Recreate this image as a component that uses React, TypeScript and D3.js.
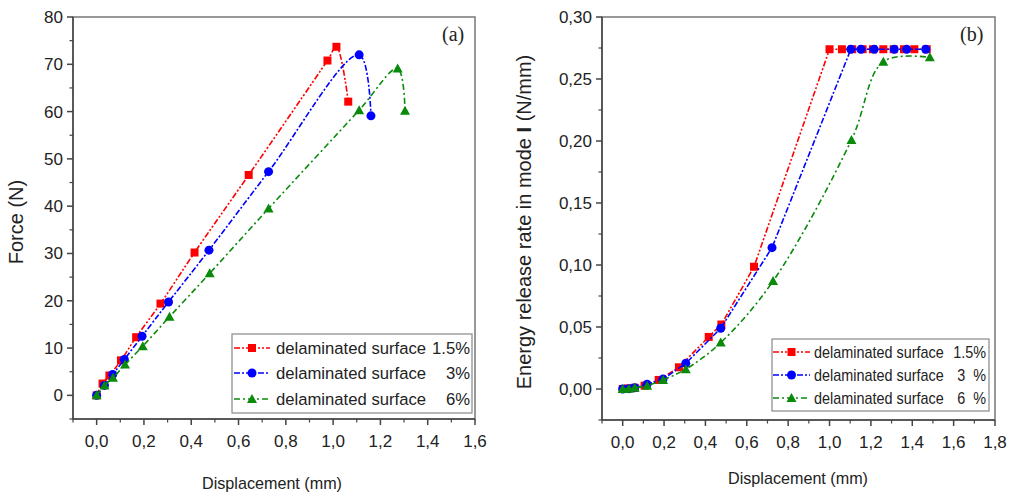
import React from "react";
import * as d3 from "d3";

// ---------- Panel (a): Force vs Displacement ----------
const a15X = [0, 0.025, 0.054, 0.103, 0.167, 0.27, 0.414, 0.643, 0.976, 1.014, 1.064];
const a15Y = [0, 2.5, 4.2, 7.4, 12.3, 19.4, 30.2, 46.6, 70.8, 73.7, 62.1];
const a3X = [0, 0.033, 0.068, 0.117, 0.192, 0.304, 0.475, 0.727, 1.11, 1.16];
const a3Y = [0, 2.1, 4.4, 7.6, 12.5, 19.75, 30.7, 47.3, 72.0, 59.1];
const a6X = [0, 0.033, 0.069, 0.12, 0.195, 0.308, 0.478, 0.727, 1.11, 1.273, 1.304];
const a6Y = [0, 2.1, 3.7, 6.5, 10.4, 16.6, 25.8, 39.5, 60.3, 69.1, 60.2];

// ---------- Panel (b): Energy release rate vs Displacement ----------
const b15X = [0, 0.026, 0.058, 0.106, 0.174, 0.272, 0.416, 0.477, 0.635, 1.0, 1.06, 1.11, 1.16, 1.21, 1.26, 1.31, 1.36, 1.41, 1.47];
const b15Y = [0, 0.0005, 0.001, 0.0027, 0.0073, 0.0175, 0.042, 0.052, 0.0986, 0.274, 0.274, 0.274, 0.274, 0.274, 0.274, 0.274, 0.274, 0.274, 0.274];
const b3X = [0, 0.03, 0.058, 0.118, 0.195, 0.305, 0.474, 0.722, 1.103, 1.152, 1.216, 1.313, 1.373, 1.465];
const b3Y = [0, 0.0003, 0.001, 0.0038, 0.008, 0.0207, 0.049, 0.114, 0.274, 0.274, 0.274, 0.274, 0.274, 0.274];
const b6X = [0, 0.03, 0.058, 0.118, 0.195, 0.305, 0.474, 0.727, 1.106, 1.26, 1.485];
const b6Y = [0, 0.0003, 0.001, 0.0027, 0.0073, 0.016, 0.0374, 0.087, 0.2008, 0.264, 0.2675];

const legendNames = ["delaminated surface", "delaminated surface", "delaminated surface"];
const legendPctA = ["1.5%", "3%", "6%"];
const legendPctB = ["1.5%", "3  %", "6  %"];

const xTicksA = [0, 0.2, 0.4, 0.6, 0.8, 1.0, 1.2, 1.4, 1.6];
const yTicksA = [0, 10, 20, 30, 40, 50, 60, 70, 80];
const xTicksB = [0, 0.2, 0.4, 0.6, 0.8, 1.0, 1.2, 1.4, 1.6, 1.8];
const yTicksB = [0, 0.05, 0.1, 0.15, 0.2, 0.25, 0.3];

const RED = "#ff0000";
const BLUE = "#0000ff";
const GREEN = "#0a8a0a";
const FONT = "'Liberation Sans', Arial, sans-serif";

type Series = { xs: number[]; ys: number[]; color: string; marker: string; dash: string; smooth: boolean };

function Marker({ type, x, y, color }: { type: string; x: number; y: number; color: string }) {
  if (type === "square") return <rect x={x - 4} y={y - 4} width={8} height={8} fill={color} />;
  if (type === "circle") return <circle cx={x} cy={y} r={4.5} fill={color} />;
  const s = 5;
  return <path d={`M${x},${y - s} L${x + s},${y + s * 0.8} L${x - s},${y + s * 0.8} Z`} fill={color} />;
}

function Panel(props: {
  x0: number; x1: number; y0: number; y1: number;
  xDom: [number, number]; yDom: [number, number];
  xTicks: number[]; yTicks: number[]; xMinor: number; yMinor: number;
  xFmt: (v: number) => string; yFmt: (v: number) => string;
  series: Series[]; tag: string; tagX: number;
}) {
  const { x0, x1, y0, y1, xDom, yDom, xTicks, yTicks, xMinor, yMinor, xFmt, yFmt, series, tag, tagX } = props;
  const xs = d3.scaleLinear().domain(xDom).range([x0, x1]);
  const ys = d3.scaleLinear().domain(yDom).range([y1, y0]);
  const smoothLine = d3.line<[number, number]>()
    .x((d) => xs(d[0]))
    .y((d) => ys(d[1]))
    .curve(d3.curveCatmullRom.alpha(0.5));
  const straightLine = d3.line<[number, number]>()
    .x((d) => xs(d[0]))
    .y((d) => ys(d[1]));
  const xMinorTicks = xTicks.map((t) => t - xMinor).filter((t) => t >= xDom[0] - 1e-9);
  const yMinorTicks = yTicks.map((t) => t - yMinor).filter((t) => t >= yDom[0] - 1e-9);
  return (
    <g>
      <rect x={x0} y={y0} width={x1 - x0} height={y1 - y0} fill="none" stroke="#777" strokeWidth={1.5} />
      <line x1={x0} x2={x0} y1={y0} y2={y1} stroke="#444" strokeWidth={1.5} />
      <line x1={x0} x2={x1} y1={y1} y2={y1} stroke="#444" strokeWidth={1.5} />
      {xTicks.map((t) => (
        <g key={"xt" + t}>
          <line x1={xs(t)} x2={xs(t)} y1={y1} y2={y1 + 6} stroke="#444" strokeWidth={1.5} />
          <text x={xs(t)} y={y1 + 28} textAnchor="middle" fontFamily={FONT} fontSize={17} fill="#222">{xFmt(t)}</text>
        </g>
      ))}
      {xMinorTicks.map((t) => (
        <line key={"xm" + t} x1={xs(t)} x2={xs(t)} y1={y1} y2={y1 + 3.5} stroke="#444" strokeWidth={1.2} />
      ))}
      {yTicks.map((t) => (
        <g key={"yt" + t}>
          <line x1={x0 - 6} x2={x0} y1={ys(t)} y2={ys(t)} stroke="#444" strokeWidth={1.5} />
          <text x={x0 - 10} y={ys(t) + 6} textAnchor="end" fontFamily={FONT} fontSize={17} fill="#222">{yFmt(t)}</text>
        </g>
      ))}
      {yMinorTicks.map((t) => (
        <line key={"ym" + t} x1={x0 - 3.5} x2={x0} y1={ys(t)} y2={ys(t)} stroke="#444" strokeWidth={1.2} />
      ))}
      {series.map((s, i) => {
        const pts = s.xs.map((x, j) => [x, s.ys[j]] as [number, number]);
        const gen = s.smooth ? smoothLine : straightLine;
        return (
          <g key={"s" + i}>
            <path d={gen(pts) || ""} fill="none" stroke={s.color} strokeWidth={1.6} strokeDasharray={s.dash} />
            {pts.map((p, j) => (
              <Marker key={j} type={s.marker} x={xs(p[0])} y={ys(p[1])} color={s.color} />
            ))}
          </g>
        );
      })}
      <text x={tagX} y={y0 + 24} fontFamily="'Liberation Serif', 'Times New Roman', serif" fontSize={20} fill="#222">{tag}</text>
    </g>
  );
}

function Legend(props: { x: number; y: number; w: number; h: number; rows: number[]; series: Series[]; names: string[]; pcts: string[]; textX: number; sx: number; pctX: number; lineX0: number; lineX1: number; fs: number }) {
  const { x, y, w, h, rows, series, names, pcts, textX, sx, pctX, lineX0, lineX1, fs } = props;
  return (
    <g>
      <rect x={x} y={y} width={w} height={h} fill="#fff" stroke="#888" strokeWidth={1.2} />
      {series.map((s, i) => (
        <g key={i}>
          <line x1={lineX0} x2={lineX1} y1={rows[i]} y2={rows[i]} stroke={s.color} strokeWidth={1.6} strokeDasharray={s.dash} />
          <Marker type={s.marker} x={(lineX0 + lineX1) / 2} y={rows[i]} color={s.color} />
          <g transform={`translate(${textX},${rows[i] + 6}) scale(${sx},1)`}>
            <text x={0} y={0} fontFamily={FONT} fontSize={fs} fill="#222">{names[i]}</text>
          </g>
          <g transform={`translate(${pctX},${rows[i] + 6}) scale(${sx},1)`}>
            <text x={0} y={0} textAnchor="end" fontFamily={FONT} fontSize={fs} fill="#222" style={{ whiteSpace: "pre" }}>{pcts[i]}</text>
          </g>
        </g>
      ))}
    </g>
  );
}

export default function App() {
  const comma = (p: number) => (v: number) => d3.format(`.${p}f`)(v).replace(".", ",");
  const seriesA: Series[] = [
    { xs: a15X, ys: a15Y, color: RED, marker: "square", dash: "6,2,2,2,2,2", smooth: true },
    { xs: a3X, ys: a3Y, color: BLUE, marker: "circle", dash: "6,2,2,2", smooth: true },
    { xs: a6X, ys: a6Y, color: GREEN, marker: "triangle", dash: "6,3,2,3", smooth: true },
  ];
  const seriesB: Series[] = [
    { xs: b15X, ys: b15Y, color: RED, marker: "square", dash: "6,2,2,2,2,2", smooth: false },
    { xs: b3X, ys: b3Y, color: BLUE, marker: "circle", dash: "6,2,2,2", smooth: false },
    { xs: b6X, ys: b6Y, color: GREEN, marker: "triangle", dash: "6,3,2,3", smooth: true },
  ];
  return (
    <svg width={1010} height={499} style={{ position: "absolute", left: 0, top: 0, background: "#fff" }}>
      <rect width={1010} height={499} fill="#fff" />
      <Panel x0={73} x1={475} y0={17} y1={419} xDom={[-0.1, 1.6]} yDom={[-5, 80]}
        xTicks={xTicksA} yTicks={yTicksA} xMinor={0.1} yMinor={5}
        xFmt={comma(1)} yFmt={(v) => String(v)} series={seriesA} tag="(a)" tagX={442} />
      <Legend x={232} y={334} w={240} h={79} rows={[348, 373, 399]} series={seriesA}
        names={legendNames} pcts={legendPctA} textX={276} sx={0.98} pctX={470} lineX0={234} lineX1={270} fs={17} />
      <g transform="translate(272,489) scale(0.95,1)">
        <text x={0} y={0} textAnchor="middle" fontFamily={FONT} fontSize={17} fill="#222">Displacement (mm)</text>
      </g>
      <text transform="translate(23,222) rotate(-90)" textAnchor="middle" fontFamily={FONT} fontSize={20} fill="#222">Force (N)</text>

      <Panel x0={602} x1={995} y0={17} y1={420} xDom={[-0.1, 1.8]} yDom={[-0.025, 0.3]}
        xTicks={xTicksB} yTicks={yTicksB} xMinor={0.1} yMinor={0.025}
        xFmt={comma(1)} yFmt={comma(2)} series={seriesB} tag="(b)" tagX={960} />
      <Legend x={772} y={339} w={217} h={72} rows={[352, 375, 398]} series={seriesB}
        names={legendNames} pcts={legendPctB} textX={814} sx={0.9} pctX={986} lineX0={773} lineX1={810} fs={16} />
      <g transform="translate(798,484) scale(0.95,1)">
        <text x={0} y={0} textAnchor="middle" fontFamily={FONT} fontSize={17} fill="#222">Displacement (mm)</text>
      </g>
      <text transform="translate(531,222) rotate(-90)" textAnchor="middle" fontFamily={FONT} fontSize={20} fill="#222">
        Energy release rate in mode <tspan fontWeight="bold">I</tspan>  (N/mm)
      </text>
    </svg>
  );
}
